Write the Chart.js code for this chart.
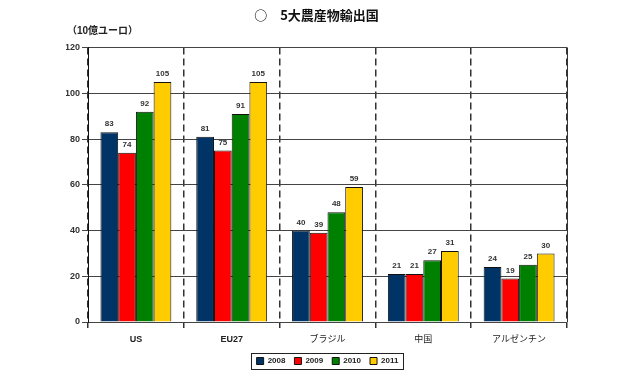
<!DOCTYPE html>
<html>
<head>
<meta charset="utf-8">
<script src="https://cdn.jsdelivr.net/npm/chart.js@4.4.1/dist/chart.umd.min.js"></script>
<style>
  html, body { margin: 0; padding: 0; background: #fff; }
  #wrap { width: 640px; height: 371px; }
</style>
</head>
<body>
<div id="wrap"><canvas id="exportChart"></canvas></div>
<script>
const countries = ["US", "EU27", "ブラジル", "中国", "アルゼンチン"];
const years = ["2008", "2009", "2010", "2011"];
const v2008 = [83, 81, 40, 21, 24];
const v2009 = [74, 75, 39, 21, 19];
const v2010 = [92, 91, 48, 27, 25];
const v2011 = [105, 105, 59, 31, 30];
const colors = ["#003366", "#ff0000", "#008000", "#ffcc00"];

const jp = "'Liberation Sans', 'Noto Sans CJK JP', sans-serif";

// value labels above each bar
const barLabels = {
  id: "barLabels",
  afterDatasetsDraw(chart) {
    const ctx = chart.ctx;
    ctx.save();
    ctx.font = "bold 8px " + jp;
    ctx.fillStyle = "#333";
    ctx.textAlign = "center";
    ctx.textBaseline = "bottom";
    chart.data.datasets.forEach((ds, i) => {
      chart.getDatasetMeta(i).data.forEach((bar, j) => {
        ctx.fillText(ds.data[j], bar.x, bar.y - 4);
      });
    });
    ctx.restore();
  }
};

// frame round plot, unit text, box round legend
const extras = {
  id: "extras",
  afterDraw(chart) {
    const ctx = chart.ctx;
    const a = chart.chartArea;
    ctx.save();
    ctx.strokeStyle = "#333";
    ctx.lineWidth = 1;
    ctx.beginPath();
    ctx.moveTo(a.right + 0.5, a.top);
    ctx.lineTo(a.right + 0.5, a.bottom);
    ctx.stroke();

    ctx.font = "bold 10px " + jp;
    ctx.fillStyle = "#222";
    ctx.textAlign = "left";
    ctx.textBaseline = "middle";
    ctx.fillText("（10億ユーロ）", a.left - 21, a.top - 16);

    const hb = chart.legend.legendHitBoxes;
    if (hb && hb.length) {
      const x1 = Math.min(...hb.map(h => h.left)) - 6;
      const x2 = Math.max(...hb.map(h => h.left + h.width)) + 4;
      const y1 = Math.min(...hb.map(h => h.top)) - 4;
      const y2 = Math.max(...hb.map(h => h.top + h.height)) + 4;
      ctx.strokeStyle = "#222";
      ctx.strokeRect(Math.round(x1) + 0.5, Math.round(y1) + 0.5, Math.round(x2 - x1), Math.round(y2 - y1));
    }
    ctx.restore();
  }
};

new Chart(document.getElementById("exportChart").getContext("2d"), {
  type: "bar",
  data: {
    labels: countries,
    datasets: [
      { label: years[0], data: v2008 },
      { label: years[1], data: v2009 },
      { label: years[2], data: v2010 },
      { label: years[3], data: v2011 }
    ].map((d, i) => Object.assign(d, {
      backgroundColor: colors[i],
      borderColor: "#111",
      borderWidth: 1,
      categoryPercentage: 0.74,
      barPercentage: 1.0
    }))
  },
  options: {
    responsive: true,
    maintainAspectRatio: false,
    animation: false,
    layout: { padding: { left: 66, right: 73, top: 0, bottom: -4 } },
    plugins: {
      title: {
        display: true,
        text: "○　5大農産物輸出国",
        color: "#111",
        font: { size: 13, weight: "bold", family: "'Noto Sans CJK JP', sans-serif" },
        padding: { top: 7, bottom: 25 }
      },
      legend: {
        position: "bottom",
        fullSize: false,
        labels: {
          boxWidth: 7,
          boxHeight: 7,
          padding: 9,
          color: "#222",
          font: { size: 8, weight: "bold", family: jp }
        }
      },
      tooltip: { enabled: false }
    },
    scales: {
      x: {
        afterFit: (s) => { s.height = 26; },
        grid: { color: "#333", lineWidth: 1.5, tickLength: 6, offset: true },
        border: { display: false, dash: [7, 4] },
        ticks: {
          color: "#222",
          padding: 6,
          font: (c) => ({ size: 9, weight: c.index < 2 ? "bold" : "normal", family: jp })
        }
      },
      y: {
        min: 0,
        max: 120,
        afterFit: (s) => { s.width = 22; },
        grid: { color: "#444", lineWidth: 1, tickLength: 6 },
        border: { color: "#111", width: 1 },
        ticks: {
          stepSize: 20,
          color: "#333",
          padding: 2,
          font: { size: 9, weight: "bold", family: jp }
        }
      }
    }
  },
  plugins: [barLabels, extras]
});
</script>
</body>
</html>
